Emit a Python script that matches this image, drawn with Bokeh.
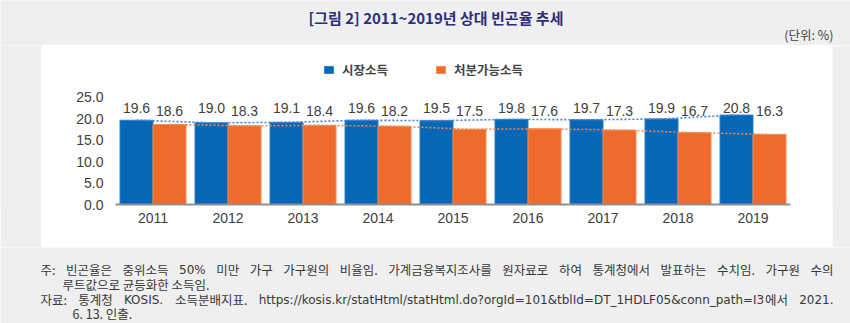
from bokeh.plotting import figure
from bokeh.layouts import column, row
from bokeh.models import ColumnDataSource, Range1d, FixedTicker, Label, NumeralTickFormatter
from bokeh.transform import dodge
from bokeh.core.properties import value
from bokeh.embed import file_html
from bokeh.resources import INLINE

# ---------------- data ----------------
years = [2011, 2012, 2013, 2014, 2015, 2016, 2017, 2018, 2019]
market_income = [19.6, 19.0, 19.1, 19.6, 19.5, 19.8, 19.7, 19.9, 20.8]
disposable_income = [18.6, 18.3, 18.4, 18.2, 17.5, 17.6, 17.3, 16.7, 16.3]
series_names = ["시장소득", "처분가능소득"]
y_ticks = [0, 5, 10, 15, 20, 25]

title_text = "[그림 2] 2011~2019년 상대 빈곤율 추세"
unit_text = "(단위: %)"
note_lines = [
    "주: 빈곤율은 중위소득 50% 미만 가구 가구원의 비율임. 가계금융복지조사를 원자료로 하여 통계청에서 발표하는 수치임. 가구원 수의",
    "루트값으로 균등화한 소득임.",
    "자료: 통계청 KOSIS. 소득분배지표. https://kosis.kr/statHtml/statHtml.do?orgId=101&tblId=DT_1HDLF05&conn_path=I3에서 2021.",
    "6. 13. 인출.",
]

# ---------------- style / layout ----------------
W, H = 850, 323
PANEL_L, PANEL_T, PANEL_R, PANEL_B = 41, 45, 832, 247   # white chart panel
PANEL_W, PANEL_H = PANEL_R - PANEL_L, PANEL_B - PANEL_T
FRAME_LB, FRAME_RB, FRAME_BB = 74, 42, 43                # borders inside white panel
PX_PER_UNIT = 4.30

GRAY = "#eeefee"
BLUE = "#0667b6"
ORANGE = "#ee6b2b"
BLUE_LINE = "#4a80d4"
ORANGE_LINE = "#ef8a50"
TXT = "#404040"
NUM_FONT = "Liberation Sans"
KR_FONT = "Noto Sans CJK KR"
LAT_FONT = "DejaVu Sans"
BAR_W = 0.44
OFF = BAR_W / 2


def blank(w, h):
    f = figure(width=w, height=h, x_range=Range1d(0, w), y_range=Range1d(h, 0),
               x_axis_type=None, y_axis_type=None, output_backend="svg",
               toolbar_location=None, title=None,
               min_border_left=0, min_border_right=0, min_border_top=0, min_border_bottom=0,
               background_fill_color=GRAY, border_fill_color=GRAY, outline_line_color=None)
    f.xgrid.visible = False
    f.ygrid.visible = False
    f.scatter([0], [0], size=0, alpha=0)
    return f


# ---------------- chart panel ----------------
src = ColumnDataSource(dict(
    year=years,
    market=market_income,
    disp=disposable_income,
    market_txt=[f"{v:.1f}" for v in market_income],
    disp_txt=[f"{v:.1f}" for v in disposable_income],
    row_b=[max(market_income) + 1.7] * len(years),
    row_o=[max(market_income) + 0.9] * len(years),
))

frame_h = PANEL_H - FRAME_BB
p = figure(width=PANEL_W, height=PANEL_H,
           x_range=Range1d(years[0] - 0.5, years[-1] + 0.5),
           y_range=Range1d(0, frame_h / PX_PER_UNIT),
           output_backend="svg", toolbar_location=None, title=None,
           min_border_left=FRAME_LB, min_border_right=FRAME_RB,
           min_border_top=0, min_border_bottom=FRAME_BB,
           background_fill_color="white", border_fill_color="white", outline_line_color=None)
p.xgrid.visible = False
p.ygrid.visible = False

p.vbar(x=dodge("year", -OFF), top="market", width=BAR_W, source=src,
       fill_color=BLUE, line_color="#2f7fc4", line_width=1, legend_label=series_names[0])
p.vbar(x=dodge("year", OFF), top="disp", width=BAR_W, source=src,
       fill_color=ORANGE, line_color="#f38a55", line_width=1, legend_label=series_names[1])

p.line(x=dodge("year", -OFF), y="market", source=src, line_color=BLUE_LINE,
       line_width=1.6, line_dash="2 2")
p.line(x=dodge("year", OFF), y="disp", source=src, line_color=ORANGE_LINE,
       line_width=1.6, line_dash="2 2")

p.text(x=dodge("year", -OFF), y="row_b", text="market_txt", source=src,
       text_align="center", text_baseline="middle", text_font=value(NUM_FONT),
       text_font_size="14px", text_color=TXT)
p.text(x=dodge("year", OFF), y="row_o", text="disp_txt", source=src,
       text_align="center", text_baseline="middle", text_font=value(NUM_FONT),
       text_font_size="14px", text_color=TXT)

xa = p.xaxis[0]
xa.ticker = FixedTicker(ticks=years)
xa.axis_line_color = "#8f8f8f"
xa.axis_line_width = 2
xa.major_tick_line_color = None
xa.minor_tick_line_color = None
xa.major_tick_out = 0
xa.major_label_standoff = 8
xa.major_label_text_font = NUM_FONT
xa.major_label_text_font_size = "14px"
xa.major_label_text_color = TXT

ya = p.yaxis[0]
ya.ticker = FixedTicker(ticks=y_ticks)
ya.formatter = NumeralTickFormatter(format="0.0")
ya.axis_line_color = None
ya.major_tick_line_color = None
ya.minor_tick_line_color = None
ya.major_tick_out = 0
ya.major_label_standoff = 12
ya.major_label_text_font = NUM_FONT
ya.major_label_text_font_size = "14px"
ya.major_label_text_color = TXT

lg = p.legend[0]
lg.orientation = "horizontal"
lg.location = (323 - PANEL_L - FRAME_LB, frame_h - (79 - PANEL_T))
lg.background_fill_alpha = 0
lg.border_line_color = None
lg.padding = 0
lg.margin = 0
lg.spacing = 47
lg.glyph_width = 11
lg.glyph_height = 9
lg.label_standoff = 8
lg.label_height = 14
lg.label_text_font = KR_FONT
lg.label_text_font_size = "12.5px"
lg.label_text_font_style = "bold"
lg.label_text_color = "#444444"


def add_label(fig, text, x, y, size, color, align="left", bold=False, font=KR_FONT):
    fig.add_layout(Label(x=x, y=y, text=text, text_align=align,
                         text_baseline="middle", text_font=font,
                         text_font_size=f"{size}px", text_color=color,
                         text_font_style="bold" if bold else "normal"))


# ---------------- header ----------------
top = blank(W, PANEL_T)
add_label(top, title_text, 435.5, 17, 15, "#2b2e7e", align="center", bold=True)
add_label(top, unit_text, 833, 34, 12.5, "#444444", align="right")

# ---------------- side gutters ----------------
left = blank(PANEL_L, PANEL_H)
right = blank(W - PANEL_R, PANEL_H)

# ---------------- notes ----------------
bottom = blank(W, H - PANEL_B)

DEJAVU = {" ": .318, "%": .95, "&": .78, ".": .318, "/": .337, ":": .337, "=": .838,
          "?": .531, "_": .5, "D": .77, "F": .575, "H": .752, "I": .295, "K": .656,
          "L": .557, "O": .787, "S": .635, "T": .611, "a": .613, "b": .635, "c": .55,
          "d": .635, "e": .615, "f": .352, "g": .635, "h": .634, "i": .278, "j": .278,
          "k": .579, "l": .278, "m": .974, "n": .634, "o": .612, "p": .635, "q": .635,
          "r": .411, "s": .521, "t": .392, "u": .634, "v": .592, "w": .818, "x": .592,
          "y": .592, "z": .525}
CJK = {" ": .224, ".": .276, ":": .276, "%": .87}
HANGUL_EM = 0.92
NOTE_SIZE = 12.5        # korean runs
LAT_SIZE = 12           # latin runs
NOTE_COLOR = "#383838"


def is_kr(ch):
    return "\uac00" <= ch <= "\ud7a3"


def est_w(s, font):
    size = LAT_SIZE if font == LAT_FONT else NOTE_SIZE
    w = 0.0
    for ch in s:
        if is_kr(ch):
            w += HANGUL_EM
        elif ch.isdigit():
            w += .636 if font == LAT_FONT else .555
        elif font == LAT_FONT:
            w += DEJAVU.get(ch, .6)
        else:
            w += CJK.get(ch, .5)
    return w * size


def pieces(word):
    """split a word into runs of latin-only / korean-containing text"""
    if all(ord(c) < 128 for c in word) and len(word) > 2 and not word.endswith(":"):
        return [(word, LAT_FONT)]
    i = 0
    while i < len(word) and ord(word[i]) < 128:
        i += 1
    if i > 4:
        return [(word[:i], LAT_FONT), (word[i:], KR_FONT)]
    return [(word, KR_FONT)]


def word_w(word):
    return sum(est_w(t, f) for t, f in pieces(word))


def put_word(fig, word, x, y):
    for t, f in pieces(word):
        size = LAT_SIZE if f == LAT_FONT else NOTE_SIZE
        add_label(fig, t, x, y, size, NOTE_COLOR, font=f)
        x += est_w(t, f)


def justified(fig, line, x0, x1, y):
    words = line.split(" ")
    widths = [word_w(wd) for wd in words]
    gap = (x1 - x0 - sum(widths)) / (len(words) - 1)
    x = x0
    for i, wd in enumerate(words):
        if i == len(words) - 1:
            put_word(fig, wd, x1 - widths[i], y)
        else:
            put_word(fig, wd, x, y)
        x += widths[i] + gap


def plain(fig, line, x0, y):
    add_label(fig, line, x0, y, NOTE_SIZE, NOTE_COLOR, font=KR_FONT)


justified(bottom, note_lines[0], 40, 833, 269 - PANEL_B)
plain(bottom, note_lines[1], 62, 284 - PANEL_B)
justified(bottom, note_lines[2], 40, 833, 299 - PANEL_B)
plain(bottom, note_lines[3], 72, 313 - PANEL_B)

layout = column(top, row(left, p, right, spacing=0), bottom, spacing=0)
open("out.html", "w").write(file_html(layout, INLINE))
